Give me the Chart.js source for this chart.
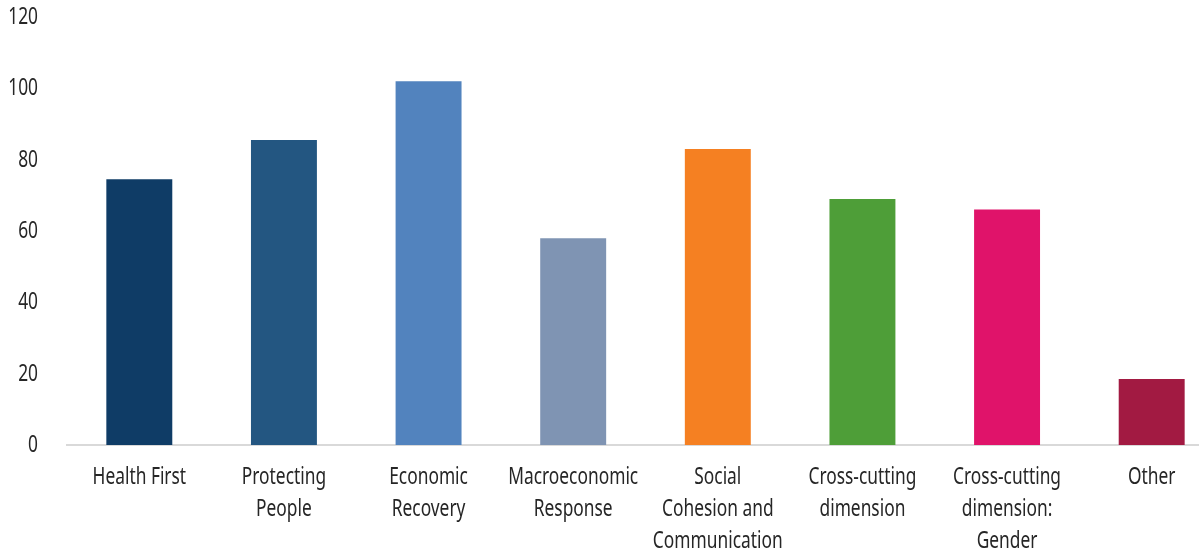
<!DOCTYPE html>
<html>
<head>
<meta charset="utf-8">
<script src="https://cdn.jsdelivr.net/npm/chart.js@4.4.1/dist/chart.umd.min.js"></script>
<style>
  html, body { margin: 0; padding: 0; background: #ffffff; overflow: hidden; }
  #wrap { width: 1199px; height: 548px; position: relative; overflow: hidden; }
  #c { display: block; }
</style>
</head>
<body>
<div id="wrap"><canvas id="c" width="1225" height="548"></canvas></div>
<script>
const categories = [
  "Health First",
  ["Protecting", "People"],
  ["Economic", "Recovery"],
  ["Macroeconomic", "Response"],
  ["Social", "Cohesion and", "Communication"],
  ["Cross-cutting", "dimension"],
  ["Cross-cutting", "dimension:", "Gender"],
  "Other"
];
const values = [74.5, 85.5, 102, 58, 83, 69, 66, 18.5];
const barColors = ["#0f3c66", "#235681", "#5283be", "#7f94b3", "#f58022", "#4e9e38", "#e0136a", "#a21a42"];
const yTicks = [0, 20, 40, 60, 80, 100, 120];

const FAMILY = "'Noto Sans', 'Open Sans', 'Liberation Sans', sans-serif";
const FSIZE = 24;

// horizontal squeeze so that the labels take the width of a condensed face
const probe = document.createElement('canvas').getContext('2d');
probe.font = FSIZE + 'px ' + FAMILY;
const SQUEEZE = Math.min(1, 130 / probe.measureText('Macroeconomic').width);

const squeezeText = {
  id: 'squeezeText',
  beforeDraw(chart) {
    const ctx = chart.ctx;
    if (ctx.__origFill) return;
    ctx.__origFill = ctx.fillText;
    ctx.fillText = function (t, x, y, mw) {
      const w = this.measureText(t).width * SQUEEZE;
      return this.__origFill(t, x, y, mw === undefined ? w : Math.min(mw, w));
    };
  }
};

new Chart(document.getElementById('c'), {
  type: 'bar',
  data: {
    labels: categories,
    datasets: [{
      data: values,
      backgroundColor: barColors,
      borderWidth: 0,
      barPercentage: 0.456,
      categoryPercentage: 1.0
    }]
  },
  plugins: [squeezeText],
  options: {
    responsive: false,
    animation: false,
    layout: { padding: { top: 17, right: 1, left: 0, bottom: 0 } },
    plugins: { legend: { display: false }, tooltip: { enabled: false } },
    scales: {
      x: {
        grid: { display: false, drawTicks: false },
        border: { display: true, color: '#d9d9d9', width: 2 },
        ticks: {
          color: '#262626',
          font: { family: FAMILY, size: FSIZE, lineHeight: 32 / FSIZE },
          padding: 16,
          maxRotation: 0,
          autoSkip: false
        },
        afterFit: (s) => { s.height = 103; s.paddingLeft = 0; s.paddingRight = 0; }
      },
      y: {
        min: 0,
        max: 120,
        afterBuildTicks: (s) => { s.ticks = yTicks.map(v => ({ value: v })); },
        grid: { display: false, drawTicks: false },
        border: { display: false },
        ticks: {
          color: '#262626',
          font: { family: FAMILY, size: FSIZE, lineHeight: 32 / FSIZE },
          padding: 29
        },
        afterFit: (s) => { s.width = 67; s.paddingTop = 0; s.paddingBottom = 0; }
      }
    }
  }
});
</script>
</body>
</html>
